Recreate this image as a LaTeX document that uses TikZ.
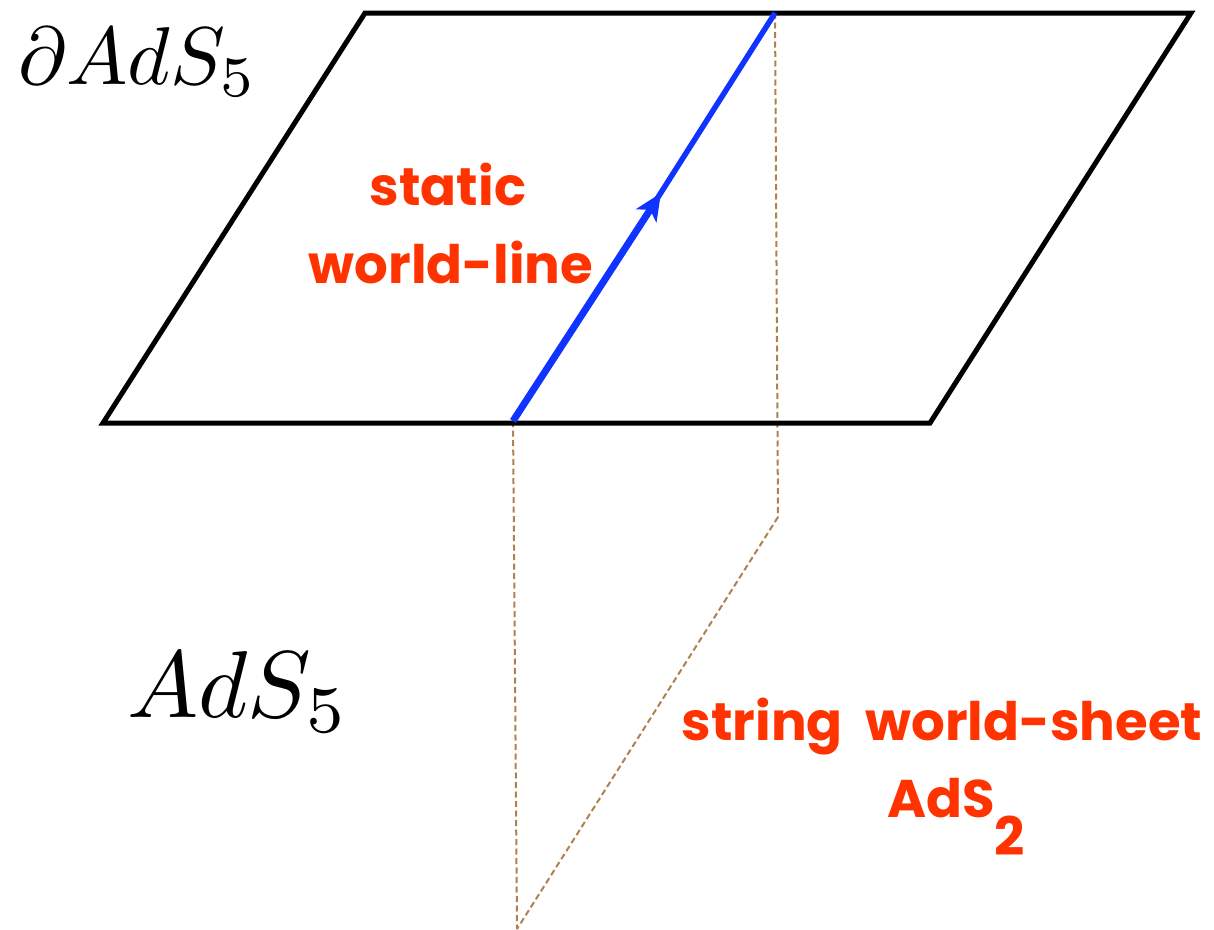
\documentclass[tikz,border=0pt]{standalone}
\usepackage{fontspec}
\newfontfamily\handfont{Poppins}
\usetikzlibrary{arrows.meta}
\definecolor{redlabel}{HTML}{FF3300}
\definecolor{bluelabel}{HTML}{1133FF}
\definecolor{brownline}{HTML}{B08050}
\begin{document}
\begin{tikzpicture}[x=1pt,y=-1pt,
        plane/.style={
            line width=5pt,
            line cap=round,
            line join=miter,
            black
        },
        hidden/.style={
            dash pattern=on 6pt off 3.5pt,
            line width=2pt,
            brownline
        },
        worldline/.style={
            line width=5.5pt,
            bluelabel
        },
        worldarrow/.style={
            worldline,
            line width=7pt,
            -{Stealth[length=27pt,width=24pt,inset=7pt]}
        },
        redtext/.style={
            font=\handfont\bfseries\fontsize{53}{78}\selectfont,
            redlabel,
            inner sep=0pt,
            anchor=base
        },
        mathtext/.style={
            inner sep=0pt,
            black
        }
    ]

    \useasboundingbox (0,0) rectangle (1214,929);

    % Corners of the boundary plane
    \coordinate (planeSW) at (103,423);
    \coordinate (planeSE) at (930,423);
    \coordinate (planeNE) at (1191,13);
    \coordinate (planeNW) at (365,13);

    % Ends of the world-line and of the sheet
    \coordinate (lineBottom) at (513,421);
    \coordinate (lineMid) at (661,193);
    \coordinate (lineJoin) at (655,202);
    \coordinate (lineTop) at (775,13);
    \coordinate (sheetBottom) at (517,929);
    \coordinate (sheetRight) at (778,517);

    % Sheet
    \draw[hidden] (lineBottom) -- (sheetBottom);
    \draw[hidden] (lineTop) -- (sheetRight);
    \draw[hidden] (sheetRight) -- (sheetBottom);

    % Plane
    \draw[plane] (planeSW) -- (planeSE) -- (planeNE) -- (planeNW) -- cycle;

    % World-line
    \draw[worldline] (lineJoin) -- (lineTop);
    \draw[worldarrow] (lineBottom) -- (lineMid);

    % Labels
    \node[mathtext,scale=8.2] (boundaryLabel) at (138,62) {$\partial AdS_5$};
    \node[mathtext,scale=9.5] (bulkLabel) at (238,692) {$AdS_5$};
    \node[redtext] (staticLabel) at (448,205) {static};
    \node[redtext] (worldLabel) at (451,283) {world-line};
    \node[redtext] (sheetLabel) at (942,740) {string\ \ world-sheet};
    \node[redtext] (adsLabel) at (956,817) {AdS\raisebox{-0.72em}{2}};

\end{tikzpicture}
\end{document}
